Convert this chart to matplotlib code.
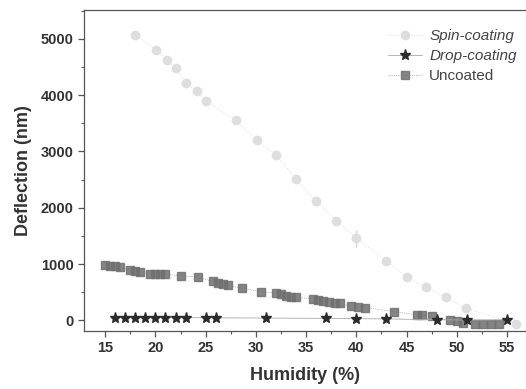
import matplotlib
matplotlib.use('Agg')
import matplotlib.pyplot as plt
from matplotlib.ticker import MultipleLocator

plt.rcParams['font.family'] = ['Liberation Sans', 'DejaVu Sans']

# Spin-coating
spin_x = [18, 20.1, 21.1, 22, 23, 24.1, 25, 28, 30.1, 32, 34, 36, 38, 40, 43, 45, 46.9, 48.9, 50.9, 55.9]
spin_y = [5070, 4800, 4630, 4480, 4210, 4065, 3900, 3550, 3195, 2940, 2510, 2120, 1770, 1460, 1060, 770, 590, 410, 215, -60]
spin_err = [0] * 13 + [150] + [0] * 6

# Drop-coating
drop_x = [16, 17, 18, 19, 20, 21, 22, 23, 25, 26, 31, 37, 40, 43, 48, 51, 55]
drop_y = [50, 50, 50, 50, 50, 50, 50, 50, 45, 45, 40, 35, 30, 25, 10, 5, 10]

# Uncoated
unc_x = [15, 15.5, 16, 16.5, 17.5, 18, 18.5, 19.5, 20, 20.5, 21, 22.5, 24.2,
         25.7, 26.2, 26.7, 27.2, 28.6, 30.5, 32, 32.5, 33, 33.5, 34,
         35.7, 36.2, 36.7, 37.3, 37.9, 38.4, 39.5, 40.2, 40.9, 43.8,
         46, 46.5, 47.5, 49.3, 50, 50.6, 51.8, 52.6, 53.4, 54.2]
unc_y = [980, 970, 965, 955, 890, 870, 850, 830, 820, 820, 820, 790, 770,
         690, 660, 640, 620, 570, 510, 480, 460, 440, 420, 410,
         380, 360, 350, 330, 310, 300, 250, 240, 225, 155,
         100, 90, 70, 0, -20, -40, -60, -70, -70, -60]

fig = plt.figure(figsize=(5.26, 3.89), dpi=100)
ax = fig.add_axes([0.16, 0.149, 0.84, 0.825])

ax.errorbar(spin_x, spin_y, yerr=spin_err, fmt='none', ecolor='#d6d6d6',
            elinewidth=1, capsize=0, zorder=2)
spin, = ax.plot(spin_x, spin_y, marker='o', color='#dedede', ms=6,
                ls=':', lw=0.7, zorder=2)
drop, = ax.plot(drop_x, drop_y, marker='*', color='#aaaaaa', ms=8, ls='-', lw=0.6,
                mfc='#2b2b2b', mec='#2b2b2b', zorder=4)
unc, = ax.plot(unc_x, unc_y, marker='s', color='#707070', ms=6, ls=':', lw=0.5,
               alpha=0.85, zorder=3)

ax.set_xlim(12.9, 56.9)
ax.set_ylim(-190, 5510)
ax.xaxis.set_major_locator(MultipleLocator(5))
ax.xaxis.set_minor_locator(MultipleLocator(2.5))
ax.yaxis.set_major_locator(MultipleLocator(1000))
ax.yaxis.set_minor_locator(MultipleLocator(500))
ax.tick_params(which='both', direction='out', top=False, right=False, colors='#555555')
ax.tick_params(which='major', length=4, width=0.9, labelsize=10.5, labelcolor='#333333')
ax.tick_params(which='minor', length=2.5, width=0.8)
for lab in ax.get_xticklabels() + ax.get_yticklabels():
    lab.set_fontweight('bold')

for s in ['left', 'bottom', 'top']:
    ax.spines[s].set_color('#555555')
    ax.spines[s].set_linewidth(0.9)
ax.spines['right'].set_visible(False)

ax.set_xlabel('Humidity (%)', fontsize=13, fontweight='bold', color='#333333', labelpad=8)
ax.set_ylabel('Deflection (nm)', fontsize=13, fontweight='bold', color='#333333', labelpad=6)

leg = ax.legend([spin, drop, unc], ['Spin-coating', 'Drop-coating', 'Uncoated'],
                loc='upper right', bbox_to_anchor=(1.0, 0.97), frameon=False,
                fontsize=11, handlelength=2.2, labelspacing=0.4,
                borderaxespad=0.2, handletextpad=0.5)
for t in leg.get_texts():
    t.set_color('#444444')
leg.get_texts()[0].set_style('italic')
leg.get_texts()[1].set_style('italic')

fig.savefig('out.png', dpi=100)
